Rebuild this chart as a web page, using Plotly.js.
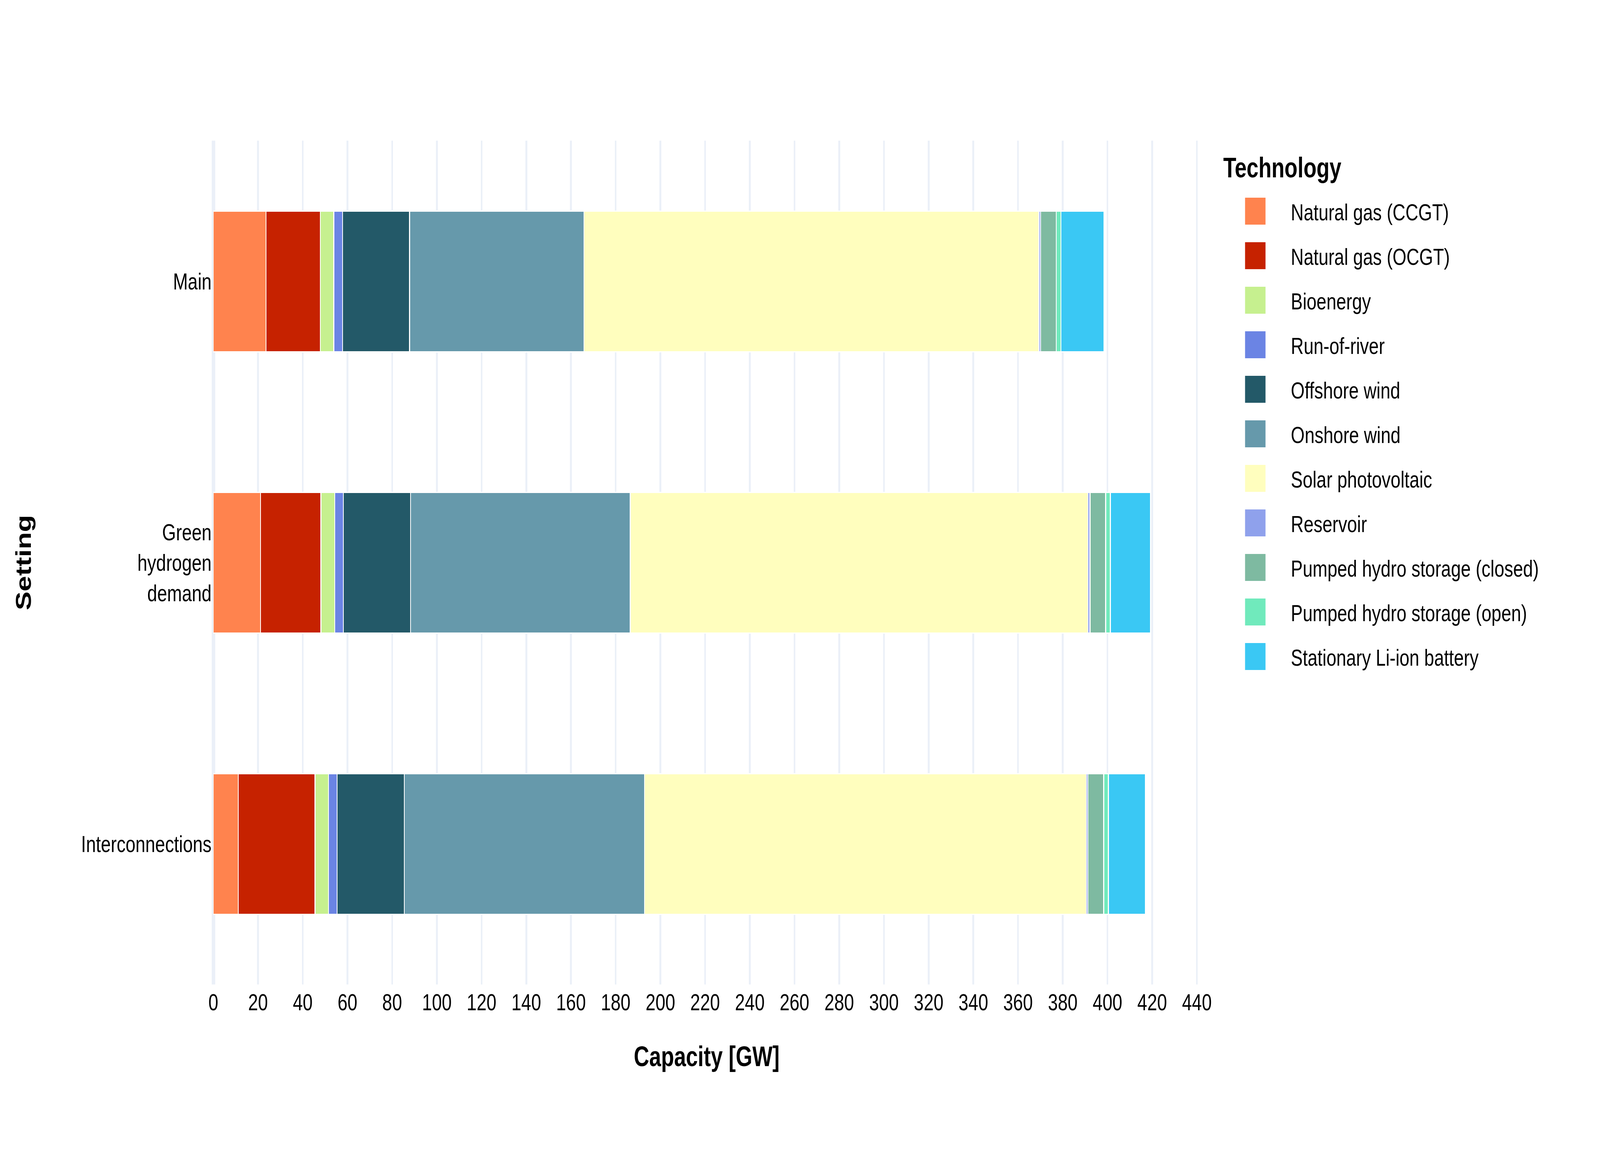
<!DOCTYPE html>
<html>
<head>
<meta charset="utf-8">
<script src="https://cdn.plot.ly/plotly-3.0.1.min.js"></script>
<style>
  html, body { margin: 0; padding: 0; background: #ffffff; overflow: hidden; }
  #chart { width: 900px; height: 500px; }
</style>
</head>
<body>
<div id="chart"></div>
<script>
// Categories (y axis)
const settings = ['Main', 'Green<br>hydrogen<br>demand', 'Interconnections'];

// Technology names (legend)
const technologies = [
  'Natural gas (CCGT)', 'Natural gas (OCGT)', 'Bioenergy', 'Run-of-river',
  'Offshore wind', 'Onshore wind', 'Solar photovoltaic', 'Reservoir',
  'Pumped hydro storage (closed)', 'Pumped hydro storage (open)', 'Stationary Li-ion battery'
];

// Capacity values [GW] per setting: Main, Green hydrogen demand, Interconnections
const naturalGasCCGT   = [23.6, 21.1, 11.2];
const naturalGasOCGT   = [24.3, 27.0, 34.3];
const bioenergy        = [6.0, 6.2, 6.0];
const runOfRiver       = [3.9, 3.9, 3.9];
const offshoreWind     = [30.0, 30.0, 30.0];
const onshoreWind      = [78.0, 98.3, 107.5];
const solarPV          = [203.5, 204.8, 197.7];
const reservoir        = [0.8, 0.9, 0.7];
const phsClosed        = [7.0, 7.0, 7.0];
const phsOpen          = [2.1, 2.1, 2.1];
const liIonBattery     = [19.2, 18.0, 16.6];

const seriesValues = [naturalGasCCGT, naturalGasOCGT, bioenergy, runOfRiver, offshoreWind,
  onshoreWind, solarPV, reservoir, phsClosed, phsOpen, liIonBattery];

const colors = ['#FF834E', '#C62200', '#C6F08F', '#6B84E4', '#235968', '#6699AB',
  '#FFFEBE', '#8FA1EC', '#7EBAA1', '#70EABC', '#3AC8F4'];

const xTickVals = [0,20,40,60,80,100,120,140,160,180,200,220,240,260,280,300,320,340,360,380,400,420,440];

const traces = technologies.map((name, i) => ({
  type: 'bar',
  orientation: 'h',
  name: name,
  x: seriesValues[i],
  y: settings,
  marker: { color: colors[i], line: { color: '#ffffff', width: 0.5 } },
  hoverinfo: 'x+name'
}));

const font = 'Liberation Sans, Arial, sans-serif';
// base figure size; the vector drawing is enlarged to fill the browser window
const BASE_W = 900, BASE_H = 500;

const layout = {
  width: BASE_W,
  height: BASE_H,
  barmode: 'stack',
  bargap: 0.5,
  paper_bgcolor: '#ffffff',
  plot_bgcolor: '#ffffff',
  font: { family: font, size: 10, color: '#000000' },
  margin: { l: 120, r: 225.2, t: 60, b: 80, pad: 0 },
  xaxis: {
    title: { text: '<b>Capacity [GW]</b>', font: { size: 12, color: '#000000' }, standoff: 14 },
    range: [0, 441.4],
    tickvals: xTickVals,
    ticktext: xTickVals.map(String),
    showgrid: true,
    gridcolor: '#EBF0F8',
    gridwidth: 1,
    zeroline: true,
    zerolinecolor: '#EBF0F8',
    zerolinewidth: 2,
    showline: false,
    ticks: '',
    tickfont: { size: 10, color: '#000000' }
  },
  yaxis: {
    title: { text: '<b>Setting</b>', font: { size: 12, color: '#000000' }, standoff: 24.5 },
    type: 'category',
    categoryorder: 'array',
    categoryarray: settings,
    autorange: 'reversed',
    showgrid: false,
    showline: false,
    zeroline: false,
    ticks: '',
    tickfont: { size: 10, color: '#000000' }
  },
  legend: {
    title: { text: '<b>Technology</b>', font: { size: 12, color: '#000000' } },
    traceorder: 'normal',
    font: { size: 10, color: '#000000' },
    x: 1.02, y: 1, xanchor: 'left', yanchor: 'top',
    bgcolor: 'rgba(0,0,0,0)'
  },
  showlegend: true
};

Plotly.newPlot('chart', traces, layout, { displayModeBar: false, staticPlot: true }).then(function (gd) {
  const W = window.innerWidth || 5400, H = window.innerHeight || 3000;
  gd.style.width = W + 'px';
  gd.style.height = H + 'px';
  gd.querySelectorAll('.plot-container, .svg-container').forEach(function (el) {
    el.style.width = W + 'px';
    el.style.height = H + 'px';
  });
  gd.querySelectorAll('svg.main-svg').forEach(function (svg) {
    svg.setAttribute('viewBox', '0 0 ' + BASE_W + ' ' + BASE_H);
    svg.setAttribute('preserveAspectRatio', 'none');
    svg.setAttribute('width', W);
    svg.setAttribute('height', H);
  });
});
</script>
</body>
</html>
